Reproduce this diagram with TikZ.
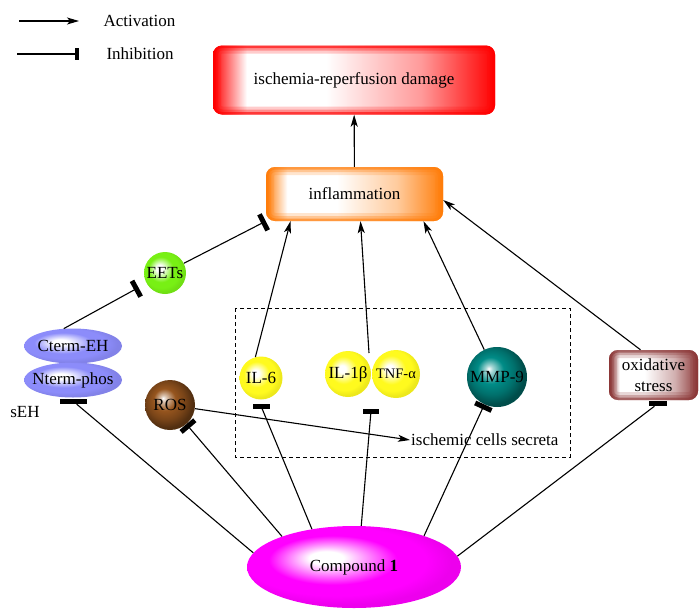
\documentclass[tikz,border=0pt]{standalone}
\usepackage{fontspec}
\setmainfont{Liberation Serif}
\usetikzlibrary{arrows.meta,shapes.geometric}

\definecolor{dmgred}{RGB}{255,0,0}
\definecolor{inflorange}{RGB}{255,125,10}
\definecolor{oxmaroon}{RGB}{140,55,55}
\definecolor{eetgreen}{RGB}{120,240,20}
\definecolor{sehblue}{RGB}{140,140,250}
\definecolor{rosbrown}{RGB}{150,85,30}
\definecolor{ilyellow}{RGB}{255,250,30}
\definecolor{mmpteal}{RGB}{0,140,135}
\definecolor{cmpmagenta}{RGB}{255,0,255}

% shadings: path box is the middle 50bp of the 100bp shading
\pgfdeclareradialshading[glowcol]{glow}{\pgfpoint{-7bp}{6bp}}{color(0bp)=(white); color(4bp)=(white); color(15bp)=(glowcol); color(21bp)=(glowcol); color(26bp)=(glowcol!93!black); color(50bp)=(glowcol!93!black)}
\pgfdeclareradialshading[glowcol]{darkglow}{\pgfpoint{-7bp}{7bp}}{color(0bp)=(white); color(3bp)=(glowcol!35!white); color(11bp)=(glowcol); color(19bp)=(glowcol!80!black); color(26bp)=(glowcol!55!black); color(50bp)=(glowcol!55!black)}
\pgfdeclarehorizontalshading[glosscol]{gloss}{100bp}{color(0bp)=(glosscol); color(25bp)=(glosscol); color(31bp)=(white); color(45bp)=(white); color(62bp)=(glosscol!40); color(75bp)=(glosscol); color(100bp)=(glosscol)}

\newcommand{\ctrtext}[1]{\makebox[0pt]{#1}}

\begin{document}
\begin{tikzpicture}[x=1pt, y=-1pt, font=\fontsize{17}{21}\selectfont,
    link/.style={line width=1.1pt},
    act/.style={link, -{Stealth[length=12pt,width=7pt,inset=3pt]}},
    inh/.style={link, -{Bar[width=18pt,line width=5pt]}},
    hbar/.style={rectangle, fill=black, minimum height=5pt, inner sep=0pt},
    sphere/.style={circle, inner sep=0pt, shade, shading=glow, /utils/exec={\colorlet{glowcol}{#1}}},
    dark sphere/.style={circle, inner sep=0pt, shade, shading=darkglow, /utils/exec={\colorlet{glowcol}{#1}}},
    blob/.style={ellipse, inner sep=0pt, shade, shading=glow, /utils/exec={\colorlet{glowcol}{#1}}},
    glossy/.style={rectangle, rounded corners=9pt, inner sep=0pt, align=center, shade, shading=gloss,
        /utils/exec={\colorlet{glosscol}{#1}},
        path picture={\foreach \lw/\op in {16/0.2,10/0.3,5/0.6}
            \draw[draw=#1, line width=\lw pt, opacity=\op, rounded corners=9pt]
                (path picture bounding box.south west) rectangle (path picture bounding box.north east);}}]
    \useasboundingbox (0,0) rectangle (700,608);

    % legend
    \coordinate (a1) at (19,21);
    \coordinate (a2) at (79,21);
    \coordinate (i1) at (17,54);
    \coordinate (i2) at (79,54);
    \draw[act] (a1) -- (a2);
    \draw[inh, -{Bar[width=12pt,line width=4pt]}] (i1) -- (i2);
    \node[anchor=west] (actlbl) at (100,21) {Activation};
    \node[anchor=west] (inhlbl) at (103,54) {Inhibition};

    % secreted factors
    \draw[dash pattern=on 4pt off 3pt, line width=0.8pt] (235,308) rectangle (570,457);

    % nodes
    \node[glossy=dmgred, minimum width=282pt, minimum height=69pt] (dmg) at (354,80) {ischemia-reperfusion damage};
    \node[glossy=inflorange, minimum width=177pt, minimum height=54pt] (inf) at (354.5,194) {inflammation};
    \node[glossy=oxmaroon, minimum width=89pt, minimum height=50pt] (ox) at (653.5,375) {oxidative\\stress};
    \node[sphere=eetgreen, minimum size=42pt] (eet) at (165,273) {EETs};
    \node[blob=sehblue, minimum width=98pt, minimum height=35pt] (cterm) at (73,346) {\ctrtext{Cterm-EH}};
    \node[blob=sehblue, minimum width=98pt, minimum height=35pt] (nterm) at (73,380) {\ctrtext{Nterm-phos}};
    \node (seh) at (25,412) {sEH};
    \node[dark sphere=rosbrown, minimum size=50pt] (ros) at (170,405) {ROS};
    \node[sphere=ilyellow, minimum size=43pt] (il6) at (261,378) {IL-6};
    \node[sphere=ilyellow, minimum size=46pt] (il1) at (348,374) {IL-1β};
    \node[sphere=ilyellow, minimum size=48pt] (tnf) at (396,374) {\fontsize{14.5}{17}\selectfont TNF-α};
    \node[dark sphere=mmpteal, minimum size=60pt] (mmp) at (497,377) {MMP-9};
    \node[anchor=west, inner sep=1pt] (sec) at (410,440) {ischemic cells secreta};
    \node[blob=cmpmagenta, minimum width=214pt, minimum height=82pt] (cmp) at (354,567) {\ctrtext{Compound \textbf{1}}};
    \coordinate (cyt) at (369,353);

    % bars under the nodes
    \node[hbar, minimum width=27pt] (bnt) at (73.5,401.5) {};
    \node[hbar, minimum width=17pt] (b6) at (261,406) {};
    \node[hbar, minimum width=16pt] (b1) at (371,411) {};
    \node[hbar, minimum width=18pt] (box) at (658,403.5) {};

    % activation
    \draw[act] (inf) -- (dmg);
    \draw[act] (il6.105) -- ([xshift=-64pt]inf.south);
    \draw[act] (cyt) -- ([xshift=6pt]inf.south);
    \draw[act] (mmp.115) -- ([xshift=69pt]inf.south);
    \draw[act] ([xshift=-13pt]ox.north) -- ([yshift=-6pt]inf.east);
    \draw[act] (ros) -- (sec.west);

    % inhibition
    \draw[inh] (eet) -- (inf.south west);
    \draw[inh, shorten >=9pt] (cterm.118) -- (eet);
    \draw[inh] (cmp.157) -- (ros);
    \draw[inh] (cmp.24.5) -- (mmp);
    \draw[link] (cmp.172) -- (bnt);
    \draw[link] (cmp.138) -- (b6);
    \draw[link] (cmp.80) -- (b1);
    \draw[link] (cmp.6) -- (box);
\end{tikzpicture}
\end{document}
